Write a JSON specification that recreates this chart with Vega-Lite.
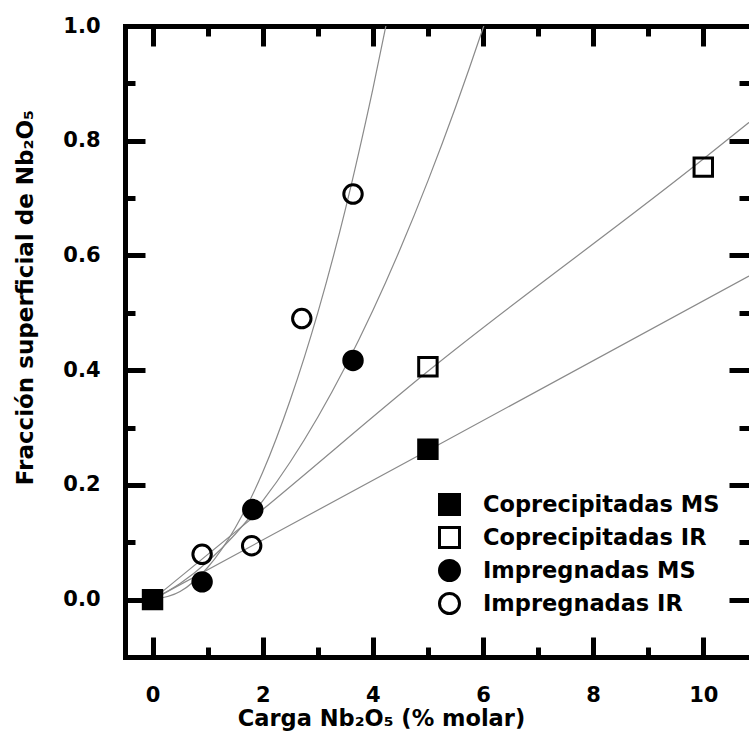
{
  "$schema": "https://vega.github.io/schema/vega-lite/v6.json",
  "width": 624,
  "height": 631,
  "autosize": {"type": "none"},
  "padding": {"left": 125, "top": 26, "right": 0, "bottom": 88},
  "background": "white",
  "config": {
    "view": {"stroke": null},
    "axis": {
      "domainColor": "black",
      "domainWidth": 5,
      "domainCap": "square",
      "tickColor": "black",
      "tickWidth": 5,
      "grid": false,
      "labelFont": "DejaVu Sans",
      "labelFontWeight": "bold",
      "labelFontSize": 21,
      "labelColor": "black",
      "titleFont": "DejaVu Sans",
      "titleFontWeight": "bold",
      "titleColor": "black"
    },
    "legend": {
      "labelFont": "DejaVu Sans",
      "labelFontWeight": "bold",
      "labelFontSize": 22.5,
      "labelColor": "black",
      "labelLimit": 0,
      "symbolSize": 400,
      "symbolStrokeWidth": 3,
      "symbolStrokeColor": "black",
      "rowPadding": 0,
      "labelOffset": 22,
      "padding": 0
    }
  },
  "datasets": {
    "pts": [
      {"series": "Coprecipitadas IR", "x": 5, "y": 0.406},
      {"series": "Coprecipitadas IR", "x": 10, "y": 0.754},
      {"series": "Impregnadas MS", "x": 0.9, "y": 0.031},
      {"series": "Impregnadas MS", "x": 1.82, "y": 0.157},
      {"series": "Impregnadas MS", "x": 3.64, "y": 0.417},
      {"series": "Impregnadas IR", "x": 0.9, "y": 0.079},
      {"series": "Impregnadas IR", "x": 1.8, "y": 0.094},
      {"series": "Impregnadas IR", "x": 2.71, "y": 0.49},
      {"series": "Impregnadas IR", "x": 3.64, "y": 0.707},
      {"series": "Coprecipitadas MS", "x": 5, "y": 0.262},
      {"series": "Coprecipitadas MS", "x": 0, "y": 0}
    ],
    "fits": [
      {"fit": "a", "x": 0, "y": 0},
      {"fit": "a", "x": 0.5, "y": 0.014},
      {"fit": "a", "x": 1, "y": 0.056},
      {"fit": "a", "x": 1.5, "y": 0.125},
      {"fit": "a", "x": 2, "y": 0.222},
      {"fit": "a", "x": 2.5, "y": 0.348},
      {"fit": "a", "x": 3, "y": 0.5},
      {"fit": "a", "x": 3.5, "y": 0.68},
      {"fit": "a", "x": 4, "y": 0.89},
      {"fit": "a", "x": 4.4, "y": 1.076},
      {"fit": "b", "x": 0, "y": 0},
      {"fit": "b", "x": 0.5, "y": 0.028},
      {"fit": "b", "x": 1, "y": 0.066},
      {"fit": "b", "x": 1.5, "y": 0.114},
      {"fit": "b", "x": 2, "y": 0.172},
      {"fit": "b", "x": 2.5, "y": 0.24},
      {"fit": "b", "x": 3, "y": 0.318},
      {"fit": "b", "x": 3.5, "y": 0.406},
      {"fit": "b", "x": 4, "y": 0.504},
      {"fit": "b", "x": 4.5, "y": 0.612},
      {"fit": "b", "x": 5, "y": 0.73},
      {"fit": "b", "x": 5.5, "y": 0.858},
      {"fit": "b", "x": 6, "y": 0.996},
      {"fit": "b", "x": 6.2, "y": 1.054},
      {"fit": "c", "x": 0, "y": 0},
      {"fit": "c", "x": 2, "y": 0.157},
      {"fit": "c", "x": 5, "y": 0.398},
      {"fit": "c", "x": 10, "y": 0.768},
      {"fit": "c", "x": 10.83, "y": 0.832},
      {"fit": "d", "x": 0, "y": 0},
      {"fit": "d", "x": 5, "y": 0.26},
      {"fit": "d", "x": 10.83, "y": 0.564}
    ]
  },
  "layer": [
    {
      "data": {"name": "fits"},
      "mark": {"type": "line", "clip": true, "color": "#8a8a8a", "strokeWidth": 1.2, "interpolate": "monotone"},
      "encoding": {
        "x": {"field": "x", "type": "quantitative",
          "scale": {"domain": [-0.5, 10.83], "nice": false, "zero": false},
          "axis": {"orient": "top", "values": [0, 2, 4, 6, 8, 10], "labels": false, "tickSize": -20, "title": null, "domain": true}},
        "y": {"field": "y", "type": "quantitative",
          "scale": {"domain": [-0.1, 1.0], "nice": false, "zero": false},
          "axis": {"orient": "right", "values": [0, 0.2, 0.4, 0.6, 0.8, 1.0], "labels": false, "tickSize": -20, "title": null, "domain": false}},
        "detail": {"field": "fit", "type": "nominal"}
      }
    },
    {
      "data": {"name": "pts"},
      "mark": {"type": "point", "opacity": 0},
      "encoding": {
        "x": {"field": "x", "type": "quantitative",
          "axis": {"orient": "top", "values": [1, 3, 5, 7, 9], "labels": false, "tickSize": -10, "title": null, "domain": false}},
        "y": {"field": "y", "type": "quantitative",
          "axis": {"orient": "right", "values": [0.1, 0.3, 0.5, 0.7, 0.9], "labels": false, "tickSize": -10, "title": null, "domain": false}}
      }
    },
    {
      "data": {"name": "pts"},
      "mark": {"type": "point", "opacity": 0},
      "encoding": {
        "x": {"field": "x", "type": "quantitative",
          "axis": {"orient": "bottom", "values": [1, 3, 5, 7, 9], "labels": false, "tickSize": -10, "title": null, "domain": false}},
        "y": {"field": "y", "type": "quantitative",
          "axis": {"orient": "left", "values": [0.1, 0.3, 0.5, 0.7, 0.9], "labels": false, "tickSize": -10, "title": null, "domain": false}}
      }
    },
    {
      "data": {"name": "pts"},
      "mark": {"type": "point", "filled": true, "strokeWidth": 3, "opacity": 1, "size": 340},
      "encoding": {
        "x": {"field": "x", "type": "quantitative",
          "axis": {"orient": "bottom", "values": [0, 2, 4, 6, 8, 10], "tickSize": -20, "labelPadding": 47, "labelBaseline": "top",
            "title": "Carga Nb₂O₅ (% molar)", "titleFontSize": 22.5, "titleX": 256, "titleY": 68, "titleAlign": "center", "titleBaseline": "alphabetic"}},
        "y": {"field": "y", "type": "quantitative",
          "axis": {"orient": "left", "values": [0, 0.2, 0.4, 0.6, 0.8, 1.0], "format": ".1f", "tickSize": -20, "labelPadding": 45,
            "title": "Fracción superficial de Nb₂O₅", "titleFontSize": 23, "titleAngle": 270, "titleX": -100, "titleY": 271, "titleAlign": "center", "titleBaseline": "middle"}},
        "shape": {"field": "series", "type": "nominal",
          "scale": {"domain": ["Coprecipitadas MS", "Coprecipitadas IR", "Impregnadas MS", "Impregnadas IR"], "range": ["square", "square", "circle", "circle"]},
          "legend": {"orient": "none", "legendX": 313, "legendY": 467, "title": null, "symbolSize": 400}},
        "fill": {"field": "series", "type": "nominal",
          "scale": {"domain": ["Coprecipitadas MS", "Coprecipitadas IR", "Impregnadas MS", "Impregnadas IR"], "range": ["black", "transparent", "black", "transparent"]},
          "legend": {"orient": "none", "legendX": 313, "legendY": 467, "title": null, "symbolSize": 400}},
        "stroke": {"field": "series", "type": "nominal",
          "scale": {"domain": ["Coprecipitadas MS", "Coprecipitadas IR", "Impregnadas MS", "Impregnadas IR"], "range": ["black", "black", "black", "black"]},
          "legend": {"orient": "none", "legendX": 313, "legendY": 467, "title": null, "symbolSize": 400}}
      }
    }
  ],
  "resolve": {"axis": {"x": "independent", "y": "independent"}}
}
